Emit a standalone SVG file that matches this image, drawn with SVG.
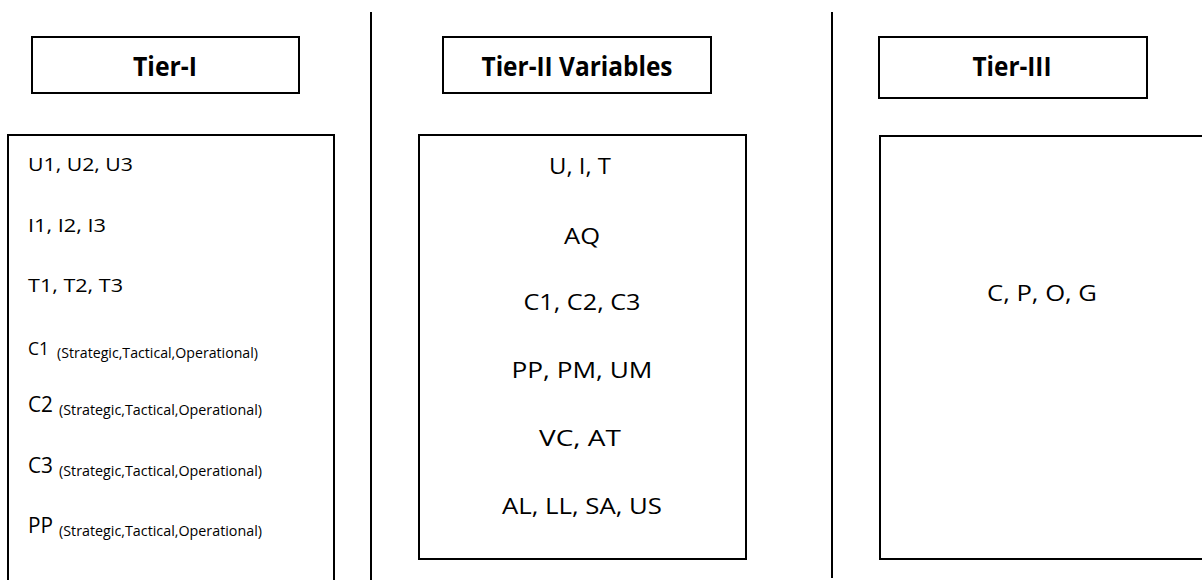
<svg xmlns="http://www.w3.org/2000/svg" width="1202" height="580" viewBox="0 0 1202 580">
  <style>
    .box { fill: #ffffff; stroke: #000000; stroke-width: 2; }
    .divider { stroke: #000000; stroke-width: 2; fill: none; }
    .head { font-family: "Open Sans", "Liberation Sans", sans-serif; font-weight: bold; font-size: 26px; fill: #000000; text-anchor: middle; }
    .item { font-family: "Open Sans", "Liberation Sans", sans-serif; font-size: 19px; fill: #000000; }
    .big { font-size: 22px; }
    .sub { font-family: "Open Sans", "Liberation Sans", sans-serif; font-size: 14px; fill: #000000; }
    .mid { font-family: "Open Sans", "Liberation Sans", sans-serif; font-size: 22px; fill: #000000; text-anchor: middle; }
  </style>
  <rect width="1202" height="580" fill="#ffffff"/>

  <!-- column separators -->
  <g id="connectors">
    <line class="divider" x1="371" y1="12" x2="371" y2="580"/>
    <line class="divider" x1="832" y1="12" x2="832" y2="578"/>
  </g>

  <!-- Tier I -->
  <g id="tier1-header">
    <rect class="box" x="32" y="37" width="267" height="56"/>
    <text class="head" x="165" y="76" textLength="64" lengthAdjust="spacingAndGlyphs">Tier-I</text>
  </g>
  <g id="tier1-body">
    <rect class="box" x="8" y="135" width="326" height="460"/>
    <text class="item" x="28" y="171" textLength="105" lengthAdjust="spacingAndGlyphs">U1, U2, U3</text>
    <text class="item" x="28" y="232" textLength="78" lengthAdjust="spacingAndGlyphs">I1, I2, I3</text>
    <text class="item" x="28" y="292" textLength="95" lengthAdjust="spacingAndGlyphs">T1, T2, T3</text>
    <text class="item" x="28" y="355" textLength="21" lengthAdjust="spacingAndGlyphs">C1</text>
    <text class="sub" x="57" y="358" textLength="201" lengthAdjust="spacingAndGlyphs">(Strategic,Tactical,Operational)</text>
    <text class="item big" x="28" y="412" textLength="25" lengthAdjust="spacingAndGlyphs">C2</text>
    <text class="sub" x="59" y="415" textLength="203" lengthAdjust="spacingAndGlyphs">(Strategic,Tactical,Operational)</text>
    <text class="item big" x="28" y="473" textLength="25" lengthAdjust="spacingAndGlyphs">C3</text>
    <text class="sub" x="59" y="476" textLength="203" lengthAdjust="spacingAndGlyphs">(Strategic,Tactical,Operational)</text>
    <text class="item big" x="28" y="533" textLength="25" lengthAdjust="spacingAndGlyphs">PP</text>
    <text class="sub" x="59" y="536" textLength="203" lengthAdjust="spacingAndGlyphs">(Strategic,Tactical,Operational)</text>
  </g>

  <!-- Tier II -->
  <g id="tier2-header">
    <rect class="box" x="443" y="37" width="268" height="56"/>
    <text class="head" x="577" y="76" textLength="191" lengthAdjust="spacingAndGlyphs">Tier-II Variables</text>
  </g>
  <g id="tier2-body">
    <rect class="box" x="419" y="135" width="327" height="424"/>
    <text class="mid" x="580" y="174" textLength="62" lengthAdjust="spacingAndGlyphs">U, I, T</text>
    <text class="mid" x="582" y="244" textLength="36" lengthAdjust="spacingAndGlyphs">AQ</text>
    <text class="mid" x="582" y="310" textLength="117" lengthAdjust="spacingAndGlyphs">C1, C2, C3</text>
    <text class="mid" x="582" y="378" textLength="141" lengthAdjust="spacingAndGlyphs">PP, PM, UM</text>
    <text class="mid" x="580" y="446" textLength="82" lengthAdjust="spacingAndGlyphs">VC, AT</text>
    <text class="mid" x="582" y="514" textLength="160" lengthAdjust="spacingAndGlyphs">AL, LL, SA, US</text>
  </g>

  <!-- Tier III -->
  <g id="tier3-header">
    <rect class="box" x="879" y="37" width="268" height="61"/>
    <text class="head" x="1012" y="76" textLength="79" lengthAdjust="spacingAndGlyphs">Tier-III</text>
  </g>
  <g id="tier3-body">
    <rect class="box" x="880" y="136" width="340" height="423"/>
    <text class="mid" x="1042" y="301" textLength="110" lengthAdjust="spacingAndGlyphs">C, P, O, G</text>
  </g>
</svg>
